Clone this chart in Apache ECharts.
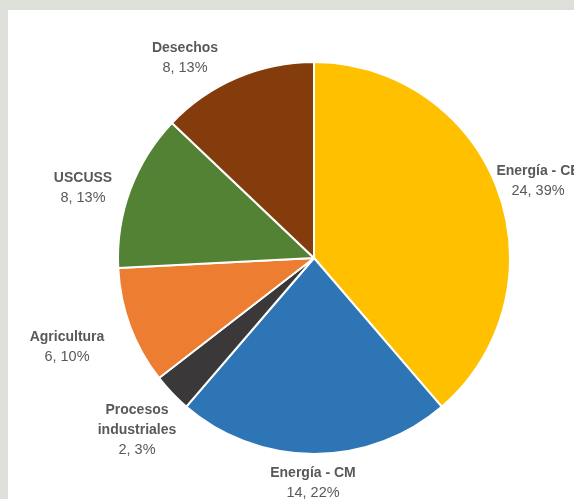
<!DOCTYPE html>
<html>
<head>
<meta charset="utf-8">
<script src="https://cdn.jsdelivr.net/npm/echarts@6/dist/echarts.min.js"></script>
<style>
html,body{margin:0;padding:0;width:574px;height:499px;overflow:hidden;background:#dde0d8;}
#paper{position:absolute;left:8px;top:10px;width:566px;height:489px;background:#ffffff;}
#chart{position:absolute;left:0;top:0;width:574px;height:499px;}
</style>
</head>
<body>
<div id="paper"></div>
<div id="chart"></div>
<script>
// Data
var categories = ["Energía - CE", "Energía - CM", "Procesos industriales", "Agricultura", "USCUSS", "Desechos"];
var values = [24, 14, 2, 6, 8, 8];
var percents = [39, 22, 3, 10, 13, 13];

var colors = ["#FFC000", "#2E75B6", "#3A3838", "#ED7D31", "#548235", "#843C0C"];
// label anchor points (label centres in px)
var labelAnchors = [[538, 181], [313, 483], [137, 430], [67, 347], [83, 188], [185, 58]];

var chart = echarts.init(document.getElementById('chart'), null, {renderer: 'canvas'});
var data = categories.map(function (c, i) {
  return {name: c, value: values[i], itemStyle: {color: colors[i]}};
});
chart.setOption({
  backgroundColor: 'transparent',
  animation: false,
  series: [{
    type: 'pie',
    center: [314, 258],
    radius: 196,
    startAngle: 90,
    clockwise: true,
    data: data,
    itemStyle: {borderColor: '#ffffff', borderWidth: 2},
    label: {
      show: true,
      position: 'outside',
      overflow: 'none',
      formatter: function (p) {
        var words = p.name.length > 15 ? p.name.split(' ') : [p.name];
        var s = words.map(function (w) { return '{n|' + w + '}'; }).join('\n');
        return s + '\n{v|' + values[p.dataIndex] + ', ' + percents[p.dataIndex] + '%}';
      },
      rich: {
        n: {fontFamily: 'Liberation Sans', fontWeight: 'bold', fontSize: 14, color: '#595959', lineHeight: 20, align: 'center'},
        v: {fontFamily: 'Liberation Sans', fontSize: 14.5, color: '#595959', lineHeight: 20, align: 'center'}
      }
    },
    labelLine: {show: false},
    labelLayout: function (p) {
      var a = labelAnchors[p.dataIndex];
      return {x: a[0], y: a[1], align: 'center', verticalAlign: 'middle'};
    }
  }]
});
</script>
</body>
</html>
